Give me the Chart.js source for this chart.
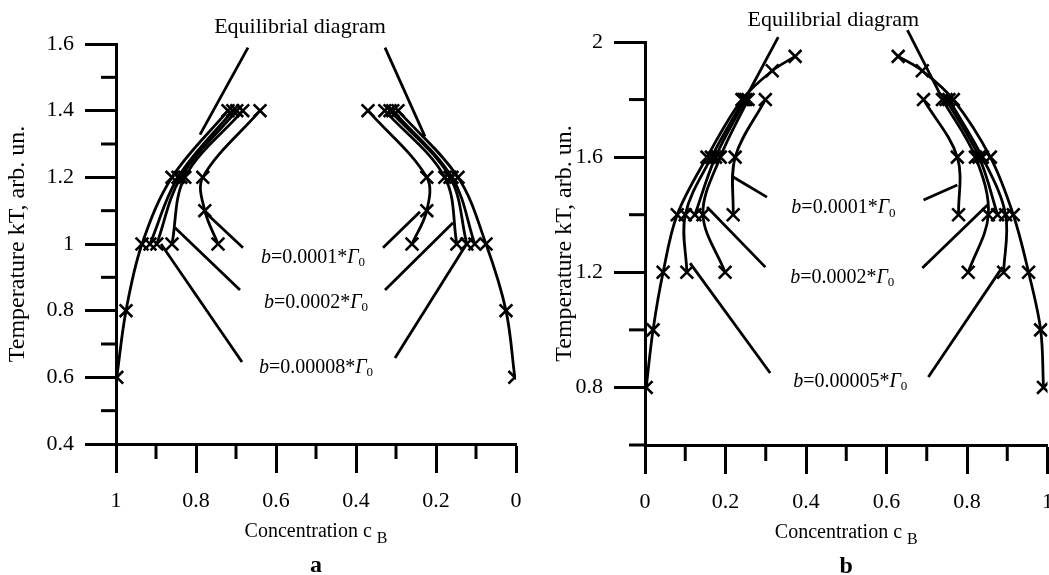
<!DOCTYPE html>
<html>
<head>
<meta charset="utf-8">
<script src="https://cdn.jsdelivr.net/npm/chart.js@4.4.1/dist/chart.umd.min.js"></script>
<style>
  body { margin: 0; background: #fff; }
  #wrap { position: relative; width: 1049px; height: 575px; overflow: hidden; }
  #chartA { position: absolute; left: 0; top: 0; }
  #chartB { position: absolute; left: 540px; top: 0; }
</style>
</head>
<body>
<div id="wrap">
  <canvas id="chartA" width="540" height="575"></canvas>
  <canvas id="chartB" width="528" height="575"></canvas>
</div>
<script>
// ---- panel a : concentration c (x, reversed) vs temperature kT (y) ----
var aTempEq = [0.6, 0.8, 1.0, 1.2, 1.4];
var aEqLeft = [0.998, 0.975, 0.935, 0.86, 0.72];
var aEqRight = [0.003, 0.025, 0.075, 0.145, 0.295];
var aTemp3 = [1.0, 1.2, 1.4];
var aMidLeft = [0.915, 0.845, 0.708];
var aMidRight = [0.103, 0.16, 0.308];
var aB00008Left = [0.898, 0.838, 0.698];
var aB00008Right = [0.123, 0.165, 0.315];
var aB0002Left = [0.86, 0.828, 0.683];
var aB0002Right = [0.148, 0.178, 0.328];
var aTempE = [1.0, 1.1, 1.2, 1.4];
var aB0001Left = [0.745, 0.778, 0.783, 0.64];
var aB0001Right = [0.26, 0.223, 0.223, 0.37];
// leader lines, [c, T] ends
var aLeadsLeft = [[[0.7725, 1.09], [0.6825, 0.989]], [[0.8525, 1.049], [0.69, 0.862]], [[0.8875, 1.0], [0.685, 0.646]]];
var aLeadsRight = [[[0.24, 1.097], [0.3325, 0.989]], [[0.1575, 1.064], [0.3275, 0.862]], [[0.12, 1.007], [0.3025, 0.658]]];
var aEqLeads = [[[0.67, 1.589], [0.79, 1.328]], [[0.3275, 1.589], [0.2275, 1.322]]];
var aXTicks = [0, 0.2, 0.4, 0.6, 0.8, 1];
var aYTicks = [0.4, 0.6, 0.8, 1.0, 1.2, 1.4, 1.6];
var aNotes = ['0.0001', '0.0002', '0.00008'];

// ---- panel b ----
var bTempEq = [0.8, 1.0, 1.2, 1.4, 1.6, 1.8, 1.9, 1.95];
var bEqLeft = [0.003, 0.02, 0.045, 0.08, 0.154, 0.241, 0.316, 0.373];
var bEqRight = [0.99, 0.983, 0.953, 0.915, 0.858, 0.766, 0.689, 0.629];
var bTemp4 = [1.2, 1.4, 1.6, 1.8];
var bB00005Left = [0.104, 0.1, 0.165, 0.245];
var bB00005Right = [0.891, 0.896, 0.838, 0.755];
var bB0002Left = [0.199, 0.144, 0.187, 0.256];
var bB0002Right = [0.803, 0.853, 0.821, 0.739];
var bTemp3 = [1.4, 1.6, 1.8];
var bMidLeft = [0.124, 0.175, 0.25];
var bMidRight = [0.876, 0.83, 0.748];
var bB0001Left = [0.219, 0.224, 0.299];
var bB0001Right = [0.779, 0.776, 0.692];
var bLeadsLeft = [[[0.219, 1.531], [0.303, 1.461]], [[0.154, 1.427], [0.299, 1.218]], [[0.112, 1.232], [0.311, 0.85]]];
var bLeadsRight = [[[0.776, 1.503], [0.692, 1.451]], [[0.851, 1.434], [0.689, 1.215]], [[0.888, 1.218], [0.704, 0.836]]];
var bEqLeads = [[[0.331, 2.017], [0.254, 1.816]], [[0.652, 2.041], [0.734, 1.816]]];
var bXTicks = [0, 0.2, 0.4, 0.6, 0.8, 1];
var bYTicks = [0.8, 1.2, 1.6, 2.0];
var bNotes = ['0.0001', '0.0002', '0.00005'];

var serif = "'Liberation Serif', 'Times New Roman', serif";

function pairs(cs, ts) {
    return cs.map(function (c, i) { return { x: c, y: ts[i] }; });
}
function seg(p) {
    return p.map(function (q) { return { x: q[0], y: q[1] }; });
}
function curve(data) {
    return {
        data: data, showLine: true, borderColor: '#000', borderWidth: 2.8, tension: 0.35,
        pointStyle: 'crossRot', pointRadius: 9, pointHoverRadius: 9, pointBorderWidth: 2.6,
        pointBorderColor: '#000', pointBackgroundColor: '#000'
    };
}
function leader(data) {
    return { data: data, showLine: true, borderColor: '#000', borderWidth: 2.8, tension: 0, pointRadius: 0, pointHoverRadius: 0, clip: false };
}
function fmt(v) { return String(+Number(v).toFixed(1)); }

function noteParts(val) {
    return [
        { t: 'b', f: 'italic 20px ' + serif },
        { t: '=' + val + '*', f: '20px ' + serif },
        { t: 'Γ', f: 'italic 20px ' + serif },
        { t: '0', f: '13px ' + serif, dy: 5 }
    ];
}
function drawRich(ctx, parts, x, y) {
    var w = 0;
    parts.forEach(function (p) { ctx.font = p.f; w += ctx.measureText(p.t).width; });
    var cx = x - w / 2;
    parts.forEach(function (p) {
        ctx.font = p.f;
        ctx.fillText(p.t, cx, y + (p.dy || 0));
        cx += ctx.measureText(p.t).width;
    });
}

// minor ticks, annotation texts, x title, panel letter
var decor = {
    id: 'decor',
    afterDraw: function (chart, args, o) {
        var ctx = chart.ctx, xs = chart.scales.x, ys = chart.scales.y;
        ctx.save();
        ctx.strokeStyle = '#000';
        ctx.lineWidth = 3;
        o.minorX.forEach(function (v) {
            var px = xs.getPixelForValue(v);
            ctx.beginPath(); ctx.moveTo(px, xs.top); ctx.lineTo(px, xs.top + o.minorLen); ctx.stroke();
        });
        o.minorY.forEach(function (v) {
            var py = ys.getPixelForValue(v);
            ctx.beginPath(); ctx.moveTo(ys.right, py); ctx.lineTo(ys.right - o.minorLen, py); ctx.stroke();
        });
        ctx.fillStyle = '#000';
        ctx.textBaseline = 'middle';
        o.notes.forEach(function (n) {
            drawRich(ctx, noteParts(n.v), xs.getPixelForValue(n.c), ys.getPixelForValue(n.t));
        });
        drawRich(ctx, [{ t: 'Equilibrial diagram', f: '22px ' + serif }],
            xs.getPixelForValue(o.eq[0]), ys.getPixelForValue(o.eq[1]));
        var mid = (xs.left + xs.right) / 2;
        drawRich(ctx, [{ t: 'Concentration c ', f: '20px ' + serif }, { t: 'B', f: '16px ' + serif, dy: 7 }],
            mid, xs.top + o.titleY);
        drawRich(ctx, [{ t: o.letter, f: 'bold 24px ' + serif }], mid, xs.top + o.letterY);
        ctx.restore();
    }
};

function makeChart(id, datasets, cfg) {
    var tickFont = { family: serif, size: 22 };
    return new Chart(document.getElementById(id), {
        type: 'scatter',
        data: { datasets: datasets },
        plugins: [decor],
        options: {
            responsive: false,
            animation: false,
            devicePixelRatio: 1,
            layout: { padding: cfg.padding, autoPadding: false },
            plugins: { legend: { display: false }, tooltip: { enabled: false }, decor: cfg.decor },
            scales: {
                x: {
                    type: 'linear', min: 0, max: 1, reverse: cfg.reverse,
                    afterBuildTicks: function (s) { s.ticks = cfg.xTicks.map(function (v) { return { value: v }; }); },
                    afterFit: function (s) { s.height = cfg.xHeight; },
                    ticks: { font: tickFont, color: '#000', padding: 15, maxRotation: 0, callback: fmt },
                    grid: { drawOnChartArea: false, tickLength: 29, tickWidth: 3, tickColor: '#000' },
                    border: { color: '#000', width: 3 }
                },
                y: {
                    type: 'linear', min: cfg.yMin, max: cfg.yMax,
                    afterBuildTicks: function (s) { s.ticks = cfg.yTicks.map(function (v) { return { value: v }; }); },
                    afterFit: function (s) { s.width = cfg.yWidth; },
                    ticks: { font: tickFont, color: '#000', padding: 11, callback: fmt },
                    grid: { drawOnChartArea: false, tickLength: 31, tickWidth: 3, tickColor: '#000' },
                    border: { color: '#000', width: 3 },
                    title: {
                        display: true, text: 'Temperature kT, arb. un.', color: '#000',
                        font: { family: serif, size: 24 }, padding: { top: cfg.yTitlePad, bottom: 0 }
                    }
                }
            }
        }
    });
}

var dsA = [
    curve(pairs(aEqLeft, aTempEq)), curve(pairs(aEqRight, aTempEq)),
    curve(pairs(aMidLeft, aTemp3)), curve(pairs(aMidRight, aTemp3)),
    curve(pairs(aB00008Left, aTemp3)), curve(pairs(aB00008Right, aTemp3)),
    curve(pairs(aB0002Left, aTemp3)), curve(pairs(aB0002Right, aTemp3)),
    curve(pairs(aB0001Left, aTempE)), curve(pairs(aB0001Right, aTempE))
].concat(aLeadsLeft.concat(aLeadsRight, aEqLeads).map(function (l) { return leader(seg(l)); }));

makeChart('chartA', dsA, {
    padding: { left: 0, right: 24, top: 44, bottom: 0 },
    reverse: true, xTicks: aXTicks, yTicks: aYTicks, yMin: 0.4, yMax: 1.6,
    xHeight: 131, yWidth: 116, yTitlePad: 3,
    decor: {
        minorX: [0.1, 0.3, 0.5, 0.7, 0.9], minorY: [0.5, 0.7, 0.9, 1.1, 1.3, 1.5], minorLen: 15,
        notes: [{ v: aNotes[0], c: 0.5075, t: 0.959 }, { v: aNotes[1], c: 0.5, t: 0.823 }, { v: aNotes[2], c: 0.5, t: 0.628 }],
        eq: [0.54, 1.649], titleY: 88, letterY: 122, letter: 'a'
    }
});

var dsB = [
    curve(pairs(bEqLeft, bTempEq)), curve(pairs(bEqRight, bTempEq)),
    curve(pairs(bB00005Left, bTemp4)), curve(pairs(bB00005Right, bTemp4)),
    curve(pairs(bB0002Left, bTemp4)), curve(pairs(bB0002Right, bTemp4)),
    curve(pairs(bMidLeft, bTemp3)), curve(pairs(bMidRight, bTemp3)),
    curve(pairs(bB0001Left, bTemp3)), curve(pairs(bB0001Right, bTemp3))
].concat(bLeadsLeft.concat(bLeadsRight, bEqLeads).map(function (l) { return leader(seg(l)); }));

makeChart('chartB', dsB, {
    padding: { left: 0, right: 2, top: 42, bottom: 0 },
    reverse: false, xTicks: bXTicks, yTicks: bYTicks, yMin: 0.6, yMax: 2.0,
    xHeight: 130, yWidth: 105, yTitlePad: 10,
    decor: {
        minorX: [0.1, 0.3, 0.5, 0.7, 0.9], minorY: [0.6, 1.0, 1.4, 1.8], minorLen: 16,
        notes: [{ v: bNotes[0], c: 0.493, t: 1.423 }, { v: bNotes[1], c: 0.49, t: 1.18 }, { v: bNotes[2], c: 0.51, t: 0.819 }],
        eq: [0.468, 2.077], titleY: 88, letterY: 122, letter: 'b'
    }
});
</script>
</body>
</html>
